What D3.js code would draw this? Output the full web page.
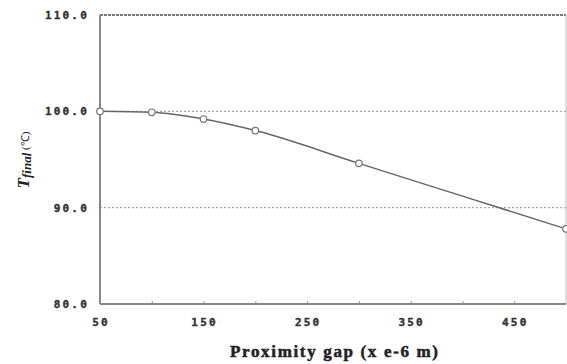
<!DOCTYPE html>
<html><head><meta charset="utf-8">
<script src="https://cdn.jsdelivr.net/npm/d3@7"></script>
<style>body{margin:0;background:#fff}svg{display:block}</style>
</head><body>
<svg id="c" width="567" height="364"></svg>
<script>
const gaps = [50, 100, 150, 200, 300, 500];
const tfinal = [100.0, 99.9, 99.2, 98.0, 94.6, 87.8];
const xTickLabels = [50, 150, 250, 350, 450];
const xMinorTicks = [100, 150, 200, 250, 300, 350, 400, 450];
const yTicks = [80, 90, 100, 110];
const yTickLabels = ["80.0", "90.0", "100.0", "110.0"];

const svg = d3.select("#c");
const L = 100, R = 566, T = 15, B = 304;
const x = d3.scaleLinear().domain([50, 500]).range([L, R]);
const y = d3.scaleLinear().domain([80, 110]).range([B, T]);

// gridlines
svg.append("g").selectAll("line").data([90, 100]).join("line")
  .attr("x1", L).attr("x2", R).attr("y1", d => y(d)).attr("y2", d => y(d))
  .attr("stroke", "#aaa").attr("stroke-width", 1.2).attr("stroke-dasharray", "2,2");
// top border dashed
svg.append("line").attr("x1", L).attr("x2", R).attr("y1", y(110)).attr("y2", y(110))
  .attr("stroke", "#777").attr("stroke-width", 2).attr("stroke-dasharray", "3,1");
// right border
svg.append("line").attr("x1", R).attr("x2", R).attr("y1", y(110)).attr("y2", y(80))
  .attr("stroke", "#bbb").attr("stroke-width", 1);

// axes
const xAxis = d3.axisBottom(x).tickValues(xMinorTicks).tickSize(-3).tickFormat("");
const gx = svg.append("g").attr("transform", `translate(0,${B})`).call(xAxis);
gx.select(".domain").remove();
gx.selectAll(".tick line").attr("stroke", "#999");
svg.append("line").attr("x1", L).attr("x2", R).attr("y1", B).attr("y2", B)
  .attr("stroke", "#888").attr("stroke-width", 2);
svg.append("line").attr("x1", L).attr("x2", L).attr("y1", T).attr("y2", B)
  .attr("stroke", "#888").attr("stroke-width", 2);

// x tick labels
svg.append("g").selectAll("text").data(xTickLabels).join("text")
  .attr("x", d => x(d) + 1).attr("y", 326).attr("text-anchor", "middle")
  .attr("font-family", "DejaVu Sans Mono").attr("font-weight", "bold")
  .attr("font-size", 11).attr("letter-spacing", "2.2px").attr("fill", "#333")
  .attr("stroke", "#333").attr("stroke-width", 0.4)
  .text(d => d);
// y tick labels
svg.append("g").selectAll("text").data(yTicks).join("text")
  .attr("x", 89).attr("y", d => y(d) + 4).attr("text-anchor", "end")
  .attr("font-family", "DejaVu Sans Mono").attr("font-weight", "bold")
  .attr("font-size", 11).attr("letter-spacing", "2.2px").attr("fill", "#333")
  .attr("stroke", "#333").attr("stroke-width", 0.4)
  .text((d, i) => yTickLabels[i]);

// line
const pts = gaps.map((g, i) => [g, tfinal[i]]);
svg.append("path").datum(pts)
  .attr("d", d3.line().x(d => x(d[0])).y(d => y(d[1])).curve(d3.curveMonotoneX))
  .attr("fill", "none").attr("stroke", "#666").attr("stroke-width", 1.5);
svg.append("g").selectAll("circle").data(pts).join("circle")
  .attr("cx", d => x(d[0])).attr("cy", d => y(d[1])).attr("r", 3.3)
  .attr("fill", "#fff").attr("stroke", "#777").attr("stroke-width", 1.2);

// x title
svg.append("text").attr("x", 334).attr("y", 357).attr("text-anchor", "middle")
  .attr("font-family", "Liberation Serif").attr("font-weight", "bold")
  .attr("font-size", 17).attr("fill", "#222").attr("stroke", "#222").attr("stroke-width", 0.5)
  .attr("textLength", 208).attr("lengthAdjust", "spacing")
  .text("Proximity gap (x e-6 m)");

// y title
const yt = svg.append("text").attr("transform", "translate(29,160) rotate(-90)")
  .attr("text-anchor", "middle").attr("font-family", "Liberation Serif").attr("fill", "#222");
yt.append("tspan").attr("font-size", 17).attr("font-weight", "bold").attr("font-style", "italic").text("T");
yt.append("tspan").attr("font-size", 13).attr("font-weight", "bold").attr("font-style", "italic").attr("dy", 2).text("final");
yt.append("tspan").attr("font-size", 11).attr("dy", -2).text(" (℃)");
</script>
</body></html>
